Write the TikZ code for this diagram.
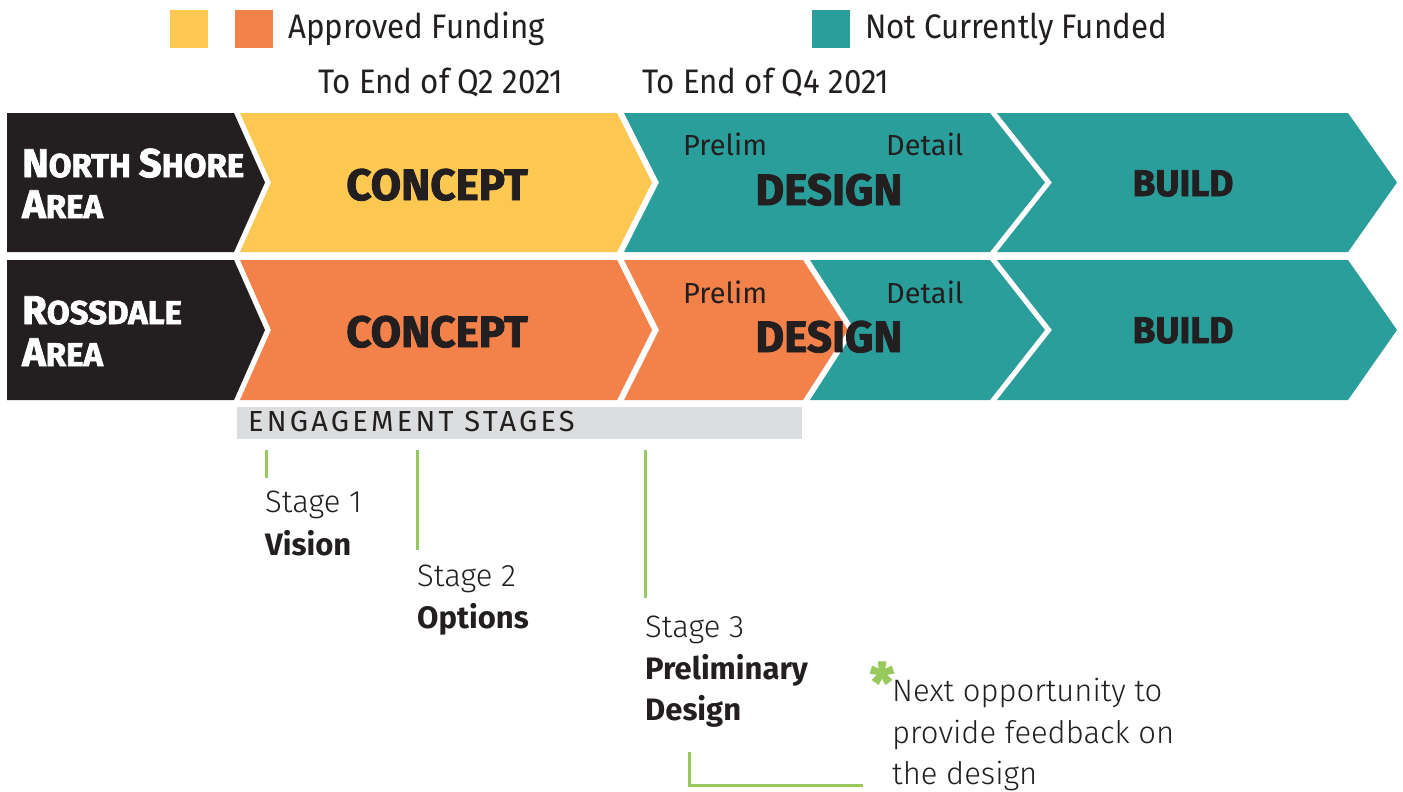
\documentclass[tikz,border=0pt]{standalone}
\usepackage{fontspec}
\setmainfont{Fira Sans}
\newfontfamily\condfont[FakeStretch=0.92]{Fira Sans}
\newfontfamily\heavyfont[BoldFeatures={FakeBold=2}]{Fira Sans}
\newfontfamily\lightfont{Fira Sans Light}
\definecolor{cyellow}{HTML}{FCC852}
\definecolor{corange}{HTML}{F3824A}
\definecolor{cteal}{HTML}{2A9E9B}
\definecolor{cblack}{HTML}{231F20}
\definecolor{cgray}{HTML}{DCDDDF}
\definecolor{cgreen}{HTML}{97C95C}
\tikzset{
  txt/.style={inner sep=0pt, anchor=base west, text=cblack},
  legendtxt/.style={txt, font=\condfont\fontsize{34}{40}\selectfont},
  datetxt/.style={txt, font=\condfont\fontsize{34}{40}\selectfont},
  areatxt/.style={inner sep=0pt, anchor=base west, text=white, font=\heavyfont\bfseries\fontsize{33}{36}\selectfont},
  phasetxt/.style={inner sep=0pt, anchor=base, text=cblack, font=\heavyfont\bfseries\fontsize{44}{52}\selectfont},
  buildtxt/.style={inner sep=0pt, anchor=base, text=cblack, font=\heavyfont\bfseries\fontsize{37}{44}\selectfont},
  subtxt/.style={txt, font=\fontsize{29}{34}\selectfont},
  stagetxt/.style={txt, font=\lightfont\fontsize{31}{36}\selectfont},
  stagebold/.style={txt, font=\bfseries\fontsize{31}{36}\selectfont},
  greenline/.style={draw=cgreen, line width=3pt},
}
\newcommand\bigN[1]{{\fontsize{40}{40}\selectfont #1}}
\begin{document}
\begin{tikzpicture}[x=1pt,y=-1pt]
\useasboundingbox (0,0) rectangle (1403,792);
\fill[white] (0,0) rectangle (1403,792);
% legend
\fill[cyellow] (170,10) rectangle (208,48);
\fill[corange] (235,10) rectangle (273,48);
\node[legendtxt] (lapp) at (288,39) {Approved Funding};
\fill[cteal] (812,10) rectangle (850,48);
\node[legendtxt] (lnot) at (865,39) {Not Currently Funded};
\node[datetxt] (q2) at (318,93) {To End of Q2 2021};
\node[datetxt] (q4) at (642,93) {To End of Q4 2021};
% row 1
\fill[cblack] (7,113) -- (234,113) -- (265,182.5) -- (234,252) -- (7,252) -- cycle;
\fill[cyellow] (240,113) -- (617,113) -- (652,182.5) -- (617,252) -- (240,252) -- (271,182.5) -- cycle;
\fill[cteal] (624,113) -- (990,113) -- (1045,182.5) -- (990,252) -- (624,252) -- (659,182.5) -- cycle;
\fill[cteal] (997,113) -- (1348,113) -- (1397,182.5) -- (1348,252) -- (997,252) -- (1052,182.5) -- cycle;
% row 2
\fill[cblack] (7,260) -- (234,260) -- (265,330) -- (234,400) -- (7,400) -- cycle;
\fill[corange] (240,260) -- (617,260) -- (652,330) -- (617,400) -- (240,400) -- (271,330) -- cycle;
\fill[corange] (624,260) -- (803,260) -- (848,330) -- (803,400) -- (624,400) -- (659,330) -- cycle;
\fill[cteal] (810,260) -- (990,260) -- (1045,330) -- (990,400) -- (810,400) -- (855,330) -- cycle;
\fill[cteal] (997,260) -- (1348,260) -- (1397,330) -- (1348,400) -- (997,400) -- (1052,330) -- cycle;
% area labels
\node[areatxt] (ns1) at (22,177) {\bigN{N}ORTH \bigN{S}HORE};
\node[areatxt] (ns2) at (22,218) {\bigN{A}REA};
\node[areatxt] (ro1) at (22,324) {\bigN{R}OSSDALE};
\node[areatxt] (ro2) at (22,366) {\bigN{A}REA};
% phase labels
\node[phasetxt] (c1) at (437,200) {CONCEPT};
\node[phasetxt] (c2) at (437,347) {CONCEPT};
\node[subtxt] (p1) at (683,155) {Prelim};
\node[subtxt] (d1) at (886,155) {Detail};
\node[subtxt] (p2) at (683,303) {Prelim};
\node[subtxt] (d2) at (886,303) {Detail};
\node[phasetxt] (g1) at (829,205) {DESIGN};
\node[phasetxt] (g2) at (829,352) {DESIGN};
\node[buildtxt] (b1) at (1183,196) {BUILD};
\node[buildtxt] (b2) at (1183,343) {BUILD};
% engagement bar
\fill[cgray] (237,407) rectangle (802,439);
\node[txt, font=\fontsize{29}{32}\selectfont] (eng) at (248,431) {\addfontfeature{LetterSpace=11}ENGAGEMENT STAGES};
% stages
\coordinate (s1a) at (266,450); \coordinate (s1b) at (266,478);
\coordinate (s2a) at (417,450); \coordinate (s2b) at (417,550);
\coordinate (s3a) at (645,450); \coordinate (s3b) at (645,598);
\draw[greenline] (s1a) -- (s1b);
\draw[greenline] (s2a) -- (s2b);
\draw[greenline] (s3a) -- (s3b);
\node[stagetxt] (st1) at (265,512) {Stage 1};
\node[stagebold] (st1b) at (265,555) {Vision};
\node[stagetxt] (st2) at (417,586) {Stage 2};
\node[stagebold] (st2b) at (417,628) {Options};
\node[stagetxt] (st3) at (645,637) {Stage 3};
\node[stagebold] (st3b) at (645,679) {Preliminary};
\node[stagebold] (st3c) at (645,720) {Design};
% note
\node[inner sep=0pt, text=cgreen, font=\heavyfont\bfseries\fontsize{54}{54}\selectfont] (ast) at (882,682) {*};
\node[stagetxt] (n1) at (892,701) {Next opportunity to};
\node[stagetxt] (n2) at (892,743) {provide feedback on};
\node[stagetxt] (n3) at (892,784) {the design};
\coordinate (la) at (689,752); \coordinate (lb) at (689,785); \coordinate (lc) at (863,785);
\draw[greenline] (la) -- (lb) -- (lc);
\end{tikzpicture}
\end{document}
